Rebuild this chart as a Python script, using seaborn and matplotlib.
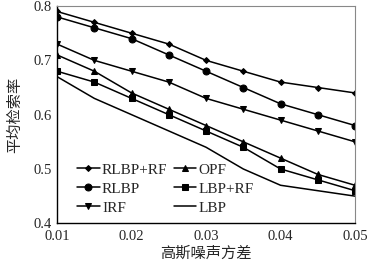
import matplotlib
matplotlib.use("Agg")
import matplotlib.pyplot as plt
import seaborn as sns
import pandas as pd

x_vals = [0.01, 0.015, 0.02, 0.025, 0.03, 0.035, 0.04, 0.045, 0.05]
rlbp_rf = [0.79, 0.77, 0.75, 0.73, 0.70, 0.68, 0.66, 0.65, 0.64]
rlbp = [0.78, 0.76, 0.74, 0.71, 0.68, 0.65, 0.62, 0.60, 0.58]
irf = [0.73, 0.70, 0.68, 0.66, 0.63, 0.61, 0.59, 0.57, 0.55]
opf = [0.71, 0.68, 0.64, 0.61, 0.58, 0.55, 0.52, 0.49, 0.47]
lbp_rf = [0.68, 0.66, 0.63, 0.60, 0.57, 0.54, 0.50, 0.48, 0.46]
lbp = [0.67, 0.63, 0.60, 0.57, 0.54, 0.50, 0.47, 0.46, 0.45]
series_names = ["RLBP+RF", "RLBP", "IRF", "OPF", "LBP+RF", "LBP"]
x_ticks = [0.01, 0.02, 0.03, 0.04, 0.05]
y_ticks = [0.4, 0.5, 0.6, 0.7, 0.8]

series = [rlbp_rf, rlbp, irf, opf, lbp_rf, lbp]
markers = ["D", "o", "v", "^", "s", None]
msizes = [3, 5, 5, 5, 4.5, 0]

sns.set_theme(style="white")
plt.rcParams['font.family'] = ['Liberation Serif', 'Noto Sans CJK SC']

fig = plt.figure(figsize=(3.83, 2.63), dpi=100)
ax = fig.add_axes([0.149, 0.151, 0.778, 0.826])

for name, vals, m, ms in zip(series_names, series, markers, msizes):
    df = pd.DataFrame({"x": x_vals, "y": vals})
    sns.lineplot(data=df, x="x", y="y", ax=ax, color="black", linewidth=1.1,
                 marker=m if m else "", markersize=ms, markeredgecolor="black",
                 label=name)

ax.set_xlim(0.01, 0.05)
ax.set_ylim(0.4, 0.8)
ax.set_xticks(x_ticks)
ax.set_yticks(y_ticks)
ax.set_xticklabels([f"{v:.2f}" for v in x_ticks], fontsize=10.5)
ax.set_yticklabels([f"{v:.1f}" for v in y_ticks], fontsize=10.5)
ax.tick_params(axis="x", direction="in", length=3, width=0.8, color="black", pad=5)
ax.tick_params(axis="y", direction="in", length=3, width=0.8, color="black", pad=4)
ax.set_xlabel("高斯噪声方差", family=['Noto Sans CJK SC'], fontsize=11, labelpad=1)
ax.set_ylabel("平均检索率", family=['Noto Sans CJK SC'], fontsize=11, labelpad=7)
for s in ["left", "bottom"]:
    ax.spines[s].set_color("black")
    ax.spines[s].set_linewidth(1.0)
for s in ["top", "right"]:
    ax.spines[s].set_color("#888888")
    ax.spines[s].set_linewidth(0.8)

ax.legend(ncol=2, loc="lower left", bbox_to_anchor=(0.03, -0.01), frameon=False,
          fontsize=11, handlelength=1.5, handletextpad=0.15, columnspacing=0.4,
          labelspacing=0.35, borderaxespad=0.3)

fig.savefig("out.png", dpi=100)
